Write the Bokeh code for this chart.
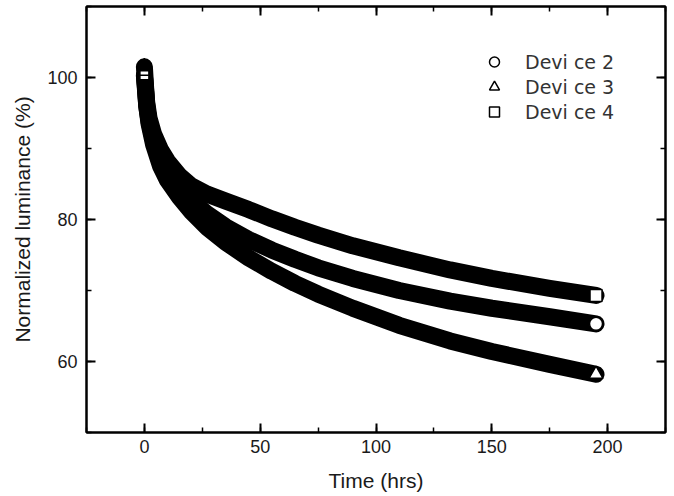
from bokeh.plotting import figure
from bokeh.models import SingleIntervalTicker, LinearAxis, Range1d, Legend, LegendItem, CustomJSTickFormatter
from bokeh.embed import file_html
from bokeh.resources import INLINE

# ---- data ----
time_hrs = [0, 1, 2, 4, 7, 10, 15, 20, 27, 35, 45, 55, 65, 75, 90, 110, 132, 150, 175, 195]
device2 = [100.2, 96.0, 93.8, 91.0, 88.5, 86.8, 84.6, 82.8, 80.8, 79.0, 77.2, 75.7, 74.4, 73.2, 71.7, 70.0, 68.5, 67.5, 66.3, 65.3]
device3 = [101.5, 96.0, 93.5, 90.5, 87.5, 85.5, 83.2, 81.2, 78.9, 76.8, 74.6, 72.7, 71.0, 69.5, 67.5, 65.1, 62.9, 61.4, 59.6, 58.2]
device4 = [100.3, 96.5, 94.3, 92.0, 89.8, 88.2, 86.2, 84.8, 83.6, 82.6, 81.4, 80.1, 78.9, 77.8, 76.3, 74.6, 72.9, 71.7, 70.3, 69.3]

end_time = [195]
end2 = [65.3]
end3 = [58.2]
end4 = [69.3]
start_time = [0]
start3 = [101.6]
start4 = [100.3]

labels = ["Devi ce 2", "Devi ce 3", "Devi ce 4"]
x_label = "Time (hrs)"
y_label = "Normalized luminance (%)"

FONT = "Liberation Sans"

p = figure(width=672, height=496, x_range=Range1d(-25, 225), y_range=Range1d(50, 110),
           output_backend="svg", toolbar_location=None, x_axis_location=None, y_axis_location=None,
           min_border_left=86, min_border_right=7, min_border_top=6, min_border_bottom=64)
p.xgrid.visible = False
p.ygrid.visible = False
p.outline_line_color = "black"
p.outline_line_width = 2
p.background_fill_color = "white"
p.border_fill_color = "white"

bottom_axis = LinearAxis(ticker=SingleIntervalTicker(interval=50, num_minor_ticks=2), axis_label=x_label)
left_axis = LinearAxis(ticker=SingleIntervalTicker(interval=20, num_minor_ticks=2), axis_label=y_label)
top_axis = LinearAxis(ticker=SingleIntervalTicker(interval=50, num_minor_ticks=2),
                      formatter=CustomJSTickFormatter(code="return ''"))
right_axis = LinearAxis(ticker=SingleIntervalTicker(interval=20, num_minor_ticks=2),
                        formatter=CustomJSTickFormatter(code="return ''"))
p.add_layout(bottom_axis, "below")
p.add_layout(left_axis, "left")
p.add_layout(top_axis, "above")
p.add_layout(right_axis, "right")

for ax in [bottom_axis, left_axis, top_axis, right_axis]:
    ax.axis_line_color = "black"
    ax.axis_line_width = 2
    ax.major_tick_line_color = "black"
    ax.major_tick_line_width = 2
    ax.minor_tick_line_color = "black"
    ax.minor_tick_line_width = 1.5
    ax.major_tick_in = 9
    ax.major_tick_out = 0
    ax.minor_tick_in = 5
    ax.minor_tick_out = 0
    ax.major_label_text_font = FONT
    ax.major_label_text_font_size = "18px"
    ax.major_label_text_color = "#1a1a1a"
    ax.axis_label_text_font = FONT
    ax.axis_label_text_font_size = "21px"
    ax.axis_label_text_font_style = "normal"
    ax.axis_label_text_color = "#1a1a1a"

for ax in [top_axis, right_axis]:
    ax.major_label_standoff = 0

bottom_axis.major_label_standoff = 7
left_axis.major_label_standoff = 9
bottom_axis.axis_label_standoff = 13
left_axis.axis_label_standoff = 10

LW = 17
p.line(time_hrs, device3, line_color="black", line_width=LW, line_join="round", line_cap="round")
p.line(time_hrs, device2, line_color="black", line_width=LW, line_join="round", line_cap="round")
p.line(time_hrs, device4, line_color="black", line_width=LW, line_join="round", line_cap="round")

p.scatter(start_time, start3, marker="triangle", size=14, fill_color="black", line_color="black")
p.scatter(start_time, start4, marker="square", size=9, fill_color="white", line_color="black", line_width=1.5)
p.scatter(start_time, start4, marker="dash", size=9, line_color="black", line_width=1.5)

r2 = p.scatter(end_time, end2, marker="circle", size=13, fill_color="white", line_color="black", line_width=1.5)
r3 = p.scatter(end_time, end3, marker="triangle", size=14, fill_color="white", line_color="black", line_width=1.5)
r4 = p.scatter(end_time, end4, marker="square", size=12, fill_color="white", line_color="black", line_width=1.5)

legend = Legend(items=[LegendItem(label=labels[0], renderers=[r2]),
                       LegendItem(label=labels[1], renderers=[r3]),
                       LegendItem(label=labels[2], renderers=[r4])],
                location=(394, 308))
legend.border_line_color = None
legend.background_fill_alpha = 0
legend.padding = 0
legend.margin = 0
legend.spacing = 0
legend.glyph_width = 28
legend.glyph_height = 25
legend.label_height = 25
legend.label_standoff = 17
legend.label_text_font = "DejaVu Sans"
legend.label_text_font_size = "19px"
legend.label_text_color = "#333333"
p.add_layout(legend)

open("out.html", "w").write(file_html(p, INLINE))
